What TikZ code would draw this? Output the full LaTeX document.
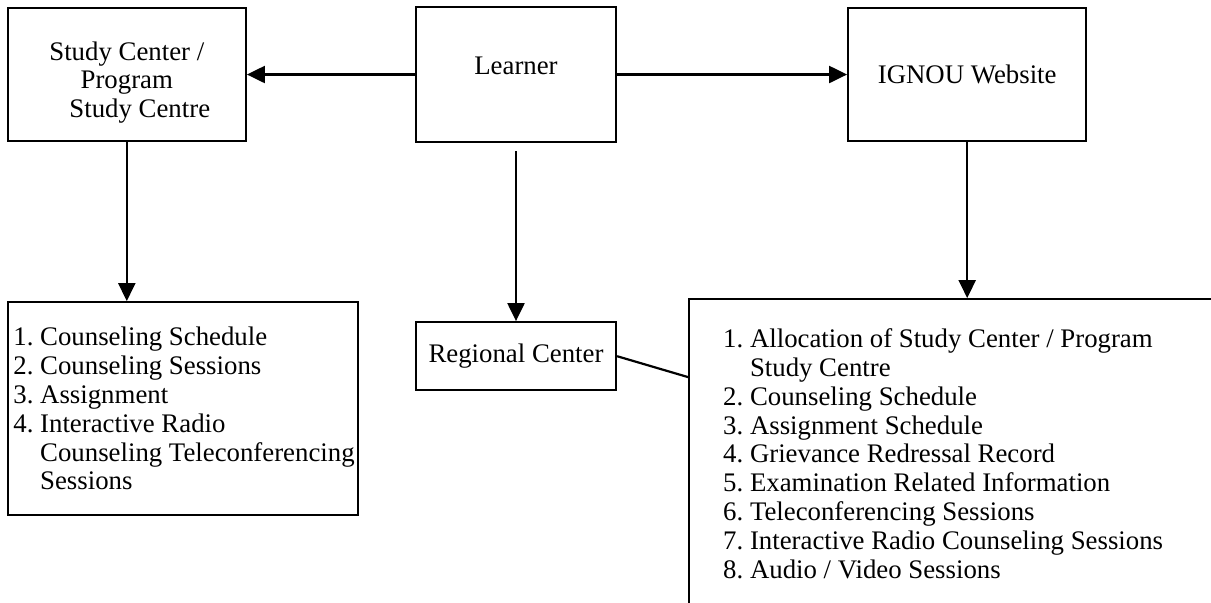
\documentclass[tikz,border=0pt]{standalone}
\usepackage{fontspec}
\setmainfont{Liberation Serif}
\usetikzlibrary{positioning,arrows.meta}
\tikzset{main box/.style={rectangle, draw, line width=1.1pt, minimum width=119pt, minimum height=66.5pt, inner sep=2pt, align=center},
  list box/.style={rectangle, draw, line width=1.1pt, align=flush left, inner xsep=4pt},
  flow/.style={-{Triangle[length=9pt,width=8.5pt]}, line width=1.1pt},}

\begin{document}
\begin{tikzpicture}[font=\fontsize{13.4}{14.4}\selectfont\frenchspacing]
        \useasboundingbox (0,0) rectangle (605.5pt,-301pt);
        \clip (0,0) rectangle (605.5pt,-301pt);
        % Nodes
        \node[main box, minimum width=100pt, minimum height=67.5pt, text depth=9pt] (learner) at (258pt,-37.25pt) {Learner};
        \node[main box, text height=46pt] [left = 84pt of learner] (study) {Study Center /\\Program\\\hspace*{13pt}Study Centre};
        \node[main box] [right = 115pt of learner] (ignou) {IGNOU Website};
        \node[main box, minimum width=100pt, minimum height=34pt] [below = 89pt of learner] (regional) {Regional Center};
        \node[list box, inner xsep=2.8pt, text width=169.4pt, minimum height=106.5pt] [below right = 79.5pt and 0pt of study.south west] (sclist)
          {1. Counseling Schedule\\2. Counseling Sessions\\3. Assignment\\4. Interactive Radio\\
           \phantom{4.}\mbox{ Counseling Teleconferencing}\\\phantom{4. }Sessions};
        \node[list box, inner xsep=17pt, inner ysep=14.8pt, text width=300pt, text depth=150pt] [below right = 77.5pt and 35.5pt of learner.south east] (weblist)
          {1. Allocation of Study Center / Program\\\phantom{1. }Study Centre\\2. Counseling Schedule\\3. Assignment Schedule\\
           4. Grievance Redressal Record\\5. Examination Related Information\\6. Teleconferencing Sessions\\
           7. Interactive Radio Counseling Sessions\\8. Audio / Video Sessions};
        % Paths
        \path[flow]
        (learner) edge (study)
        (learner) edge (ignou)
        (study.south) edge (study.south |- sclist.north)
        ([yshift=-4pt]learner.south) edge (regional)
        (ignou.south) edge (ignou.south |- weblist.north);
        \draw[line width=1.1pt] (regional.east) -- ([yshift=-39.5pt]weblist.north west);
    \end{tikzpicture}
\end{document}
